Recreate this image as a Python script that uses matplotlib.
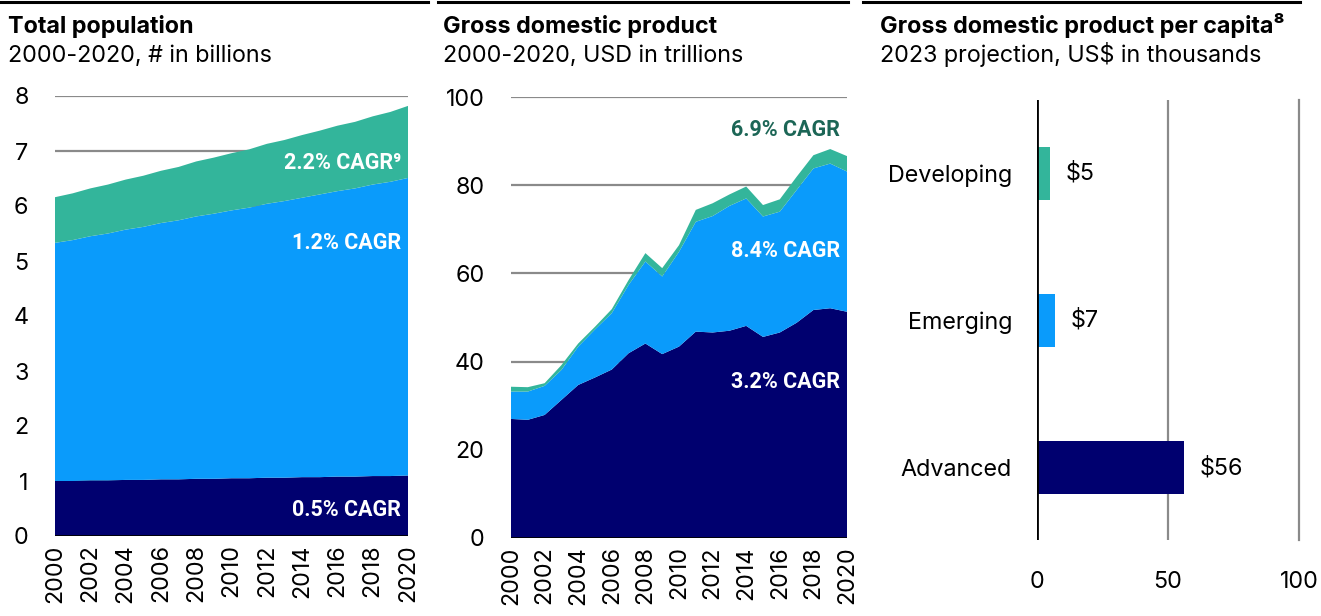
import matplotlib.pyplot as plt
from matplotlib.lines import Line2D

plt.rcParams['font.family'] = ['Inter', 'DejaVu Sans']

NAVY = '#00006f'
BLUE = '#0a9bfb'
GREEN = '#33b59b'
DKGREEN = '#1c6656'
GRID = '#8a8a8a'

years = list(range(2000, 2021))

# population, billions (stacked)
pop_advanced = [1.00, 1.00, 1.01, 1.01, 1.02, 1.02, 1.03, 1.03, 1.04, 1.04, 1.05,
                1.05, 1.06, 1.06, 1.07, 1.07, 1.08, 1.08, 1.09, 1.09, 1.10]
pop_emerging = [4.33, 4.38, 4.44, 4.49, 4.55, 4.60, 4.66, 4.71, 4.77, 4.82, 4.87,
                4.92, 4.98, 5.03, 5.08, 5.14, 5.19, 5.24, 5.30, 5.35, 5.41]
pop_developing = [0.83, 0.85, 0.87, 0.89, 0.91, 0.93, 0.95, 0.97, 1.00, 1.02, 1.04,
                  1.06, 1.09, 1.11, 1.14, 1.16, 1.19, 1.21, 1.24, 1.27, 1.31]

# GDP, USD trillions (stacked)
gdp_advanced = [27.0, 26.8, 27.9, 31.3, 34.7, 36.4, 38.2, 41.9, 44.1, 41.7, 43.4,
                46.8, 46.6, 47.0, 48.1, 45.6, 46.6, 48.8, 51.7, 52.1, 51.3]
gdp_emerging = [6.2, 6.4, 6.6, 6.8, 8.7, 10.9, 12.8, 15.5, 18.6, 17.6, 21.5,
                24.9, 26.4, 28.3, 28.9, 27.3, 27.4, 30.1, 32.1, 32.8, 31.8]
gdp_developing = [1.1, 1.0, 0.6, 1.1, 0.7, 0.6, 0.9, 1.1, 1.9, 1.9, 1.5,
                  2.7, 2.9, 2.6, 2.7, 2.6, 2.8, 3.0, 3.0, 3.3, 3.5]

# GDP per capita, US$ thousands
groups = ['Developing', 'Emerging', 'Advanced']
per_capita = [5, 7, 56]
bar_colors = [GREEN, BLUE, NAVY]

FS = 16.8

fig = plt.figure(figsize=(13.21, 6.16), dpi=100)
W, H = 1321, 616

def ax_at(x0, y0, x1, y1):
    return fig.add_axes([x0 / W, 1 - y1 / H, (x1 - x0) / W, (y1 - y0) / H])

def header(x, title, sub):
    fig.text(x / W, 1 - 33 / H, title, fontsize=FS, fontweight='bold', va='baseline')
    fig.text(x / W, 1 - 62 / H, sub, fontsize=FS, va='baseline')

def top_rule(x0, x1):
    fig.add_artist(Line2D([x0 / W, x1 / W], [1 - 1.5 / H, 1 - 1.5 / H],
                          color='black', lw=2.2, transform=fig.transFigure))

def cagr(ax, y, text, color='white'):
    ax.text(0.98, y, text, transform=ax.get_yaxis_transform(), ha='right', va='center',
            fontsize=15.5, fontweight='bold', color=color, family=['Roboto', 'DejaVu Sans'],
            zorder=5)

def area_axes(ax, top, step):
    ax.set_xlim(2000, 2020)
    ax.set_ylim(0, top)
    ax.set_yticks(range(0, top + 1, step))
    ax.set_xticks(range(2000, 2021, 2))
    ax.tick_params(axis='x', length=0, rotation=90, labelsize=FS, pad=6)
    ax.tick_params(axis='y', length=0, labelsize=FS, pad=19)
    for s in ax.spines.values():
        s.set_visible(False)
    for v in range(step, top + 1, step):
        ax.axhline(v, color=GRID, lw=1.6, zorder=0)
    ax.axhline(0, color='black', lw=2, zorder=4)

# panel 1
top_rule(0, 428)
header(8, 'Total population', '2000-2020, # in billions')
ax1 = ax_at(55, 96, 408, 536)
ax1.stackplot(years, pop_advanced, pop_emerging, pop_developing,
              colors=[NAVY, BLUE, GREEN], zorder=2)
area_axes(ax1, 8, 1)
cagr(ax1, 6.78, '2.2% CAGR\u2079')
cagr(ax1, 5.33, '1.2% CAGR')
cagr(ax1, 0.48, '0.5% CAGR')

# panel 2
top_rule(438, 848)
header(443, 'Gross domestic product', '2000-2020, USD in trillions')
ax2 = ax_at(511, 97, 847, 538)
ax2.stackplot(years, gdp_advanced, gdp_emerging, gdp_developing,
              colors=[NAVY, BLUE, GREEN], zorder=2)
area_axes(ax2, 100, 20)
cagr(ax2, 92.5, '6.9% CAGR', DKGREEN)
cagr(ax2, 65.0, '8.4% CAGR')
cagr(ax2, 35.3, '3.2% CAGR')

# panel 3
top_rule(863, 1300)
header(880, 'Gross domestic product per capita\u2078', '2023 projection, US$ in thousands')
ax3 = ax_at(1037, 100, 1299, 540)
pos = list(range(len(groups)))
ax3.barh(pos, per_capita, height=0.36, color=bar_colors, zorder=2)
for p, v in zip(pos, per_capita):
    ax3.text(v + 6, p, f'${v}', va='center', ha='left', fontsize=FS)
ax3.set_xlim(0, 100)
ax3.set_ylim(2.49, -0.50)
ax3.set_yticks(pos)
ax3.set_yticklabels(groups)
ax3.set_xticks([0, 50, 100])
ax3.tick_params(axis='y', length=0, labelsize=FS, pad=18)
ax3.tick_params(axis='x', length=0, labelsize=FS, pad=22)
for s in ax3.spines.values():
    s.set_visible(False)
ax3.axvline(50, color=GRID, lw=1.6, zorder=0)
ax3.axvline(100, color=GRID, lw=1.6, zorder=0, clip_on=False)
ax3.axvline(0, color='black', lw=2, zorder=4)

fig.savefig('out.png', dpi=100)
